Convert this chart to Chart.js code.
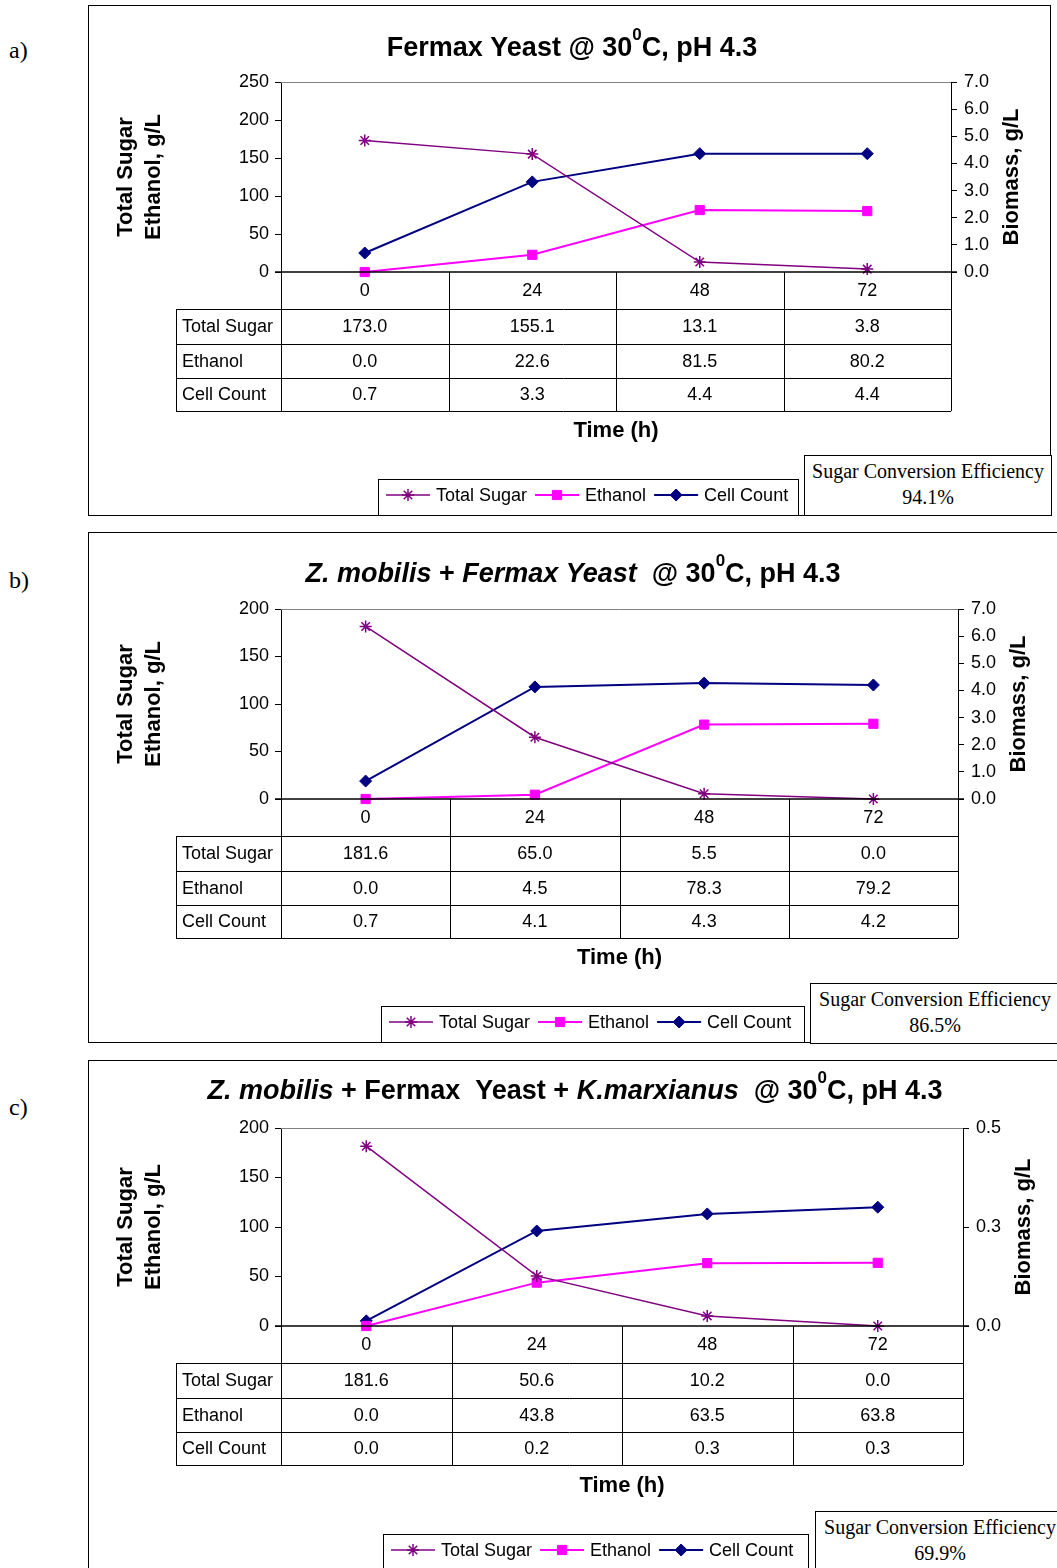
<!DOCTYPE html>
<html>
<head>
<meta charset="utf-8">
<script src="https://cdn.jsdelivr.net/npm/chart.js@4/dist/chart.umd.min.js"></script>
<style>
html,body{margin:0;padding:0;overflow:hidden;background:#fff;width:1057px;height:1568px}
.panel{position:absolute;left:88px;border:1px solid #000;box-sizing:border-box}
.tag{position:absolute;left:9px;font:24px "Liberation Serif","Times New Roman",serif;line-height:28px}
.eff{position:absolute;background:#fff;border:1.5px solid #000;font:20px "Liberation Serif","Times New Roman",serif;text-align:center;line-height:26px;box-sizing:border-box;padding-top:2px;white-space:nowrap}
canvas{position:absolute;left:88px}
</style>
</head>
<body>
<div class="panel" style="top:5px;width:963px;height:511px"></div>
<div class="panel" style="top:532px;width:1000px;height:511px"></div>
<div class="panel" style="top:1060px;width:1000px;height:600px"></div>
<div class="tag" style="top:36px">a)</div>
<div class="tag" style="top:566px">b)</div>
<div class="tag" style="top:1093px">c)</div>
<canvas id="chartA" width="969" height="510" style="top:5px"></canvas>
<canvas id="chartB" width="969" height="510" style="top:532px"></canvas>
<canvas id="chartC" width="969" height="508" style="top:1060px"></canvas>
<div class="eff" id="effA" style="left:804px;top:455px;width:248px;height:61px"></div>
<div class="eff" id="effB" style="left:810px;top:983px;width:250px;height:61px"></div>
<div class="eff" id="effC" style="left:815px;top:1511px;width:250px;height:61px"></div>
<script>
var times = ['0', '24', '48', '72']
var rowNames = ['Total Sugar', 'Ethanol', 'Cell Count']

// a) Fermax yeast
var sugarA = [173.0, 155.1, 13.1, 3.8]
var ethanolA = [0.0, 22.6, 81.5, 80.2]
var cellsA = [0.70, 3.32, 4.36, 4.36]
// b) Z. mobilis + Fermax yeast
var sugarB = [181.6, 65.0, 5.5, 0.0]
var ethanolB = [0.0, 4.5, 78.3, 79.2]
var cellsB = [0.66, 4.13, 4.27, 4.2]
// c) Z. mobilis + Fermax yeast + K. marxianus
var sugarC = [181.6, 50.6, 10.2, 0.0]
var ethanolC = [0.0, 43.8, 63.5, 63.8]
var cellsC = [0.013, 0.24, 0.283, 0.30]

var efficiency = ['94.1%', '86.5%', '69.9%']

var titleA = [['Fermax Yeast @ 30', 'b'], ['0', 'sup'], ['C, pH 4.3', 'b']]
var titleB = [['Z. mobilis', 'bi'], [' + ', 'b'], ['Fermax Yeast', 'bi'], ['  @ 30', 'b'], ['0', 'sup'], ['C, pH 4.3', 'b']]
var titleC = [['Z. mobilis', 'bi'], [' + Fermax  Yeast + ', 'b'], ['K.marxianus', 'bi'], ['  @ 30', 'b'], ['0', 'sup'], ['C, pH 4.3', 'b']]

var FAM = '"Liberation Sans", Arial, sans-serif'
Chart.defaults.font.family = FAM
Chart.defaults.color = '#000'

function drawTitle(ctx, segs, cx, base) {
    var fonts = {b: 'bold 27px ' + FAM, bi: 'italic bold 27px ' + FAM, sup: 'bold 17px ' + FAM}
    var total = 0
    segs.forEach(function(s){ ctx.font = fonts[s[1]]; total += ctx.measureText(s[0]).width })
    var x = cx - total / 2
    ctx.textAlign = 'left'
    ctx.textBaseline = 'alphabetic'
    segs.forEach(function(s){
        ctx.font = fonts[s[1]]
        ctx.fillText(s[0], x, s[1] == 'sup' ? base - 16 : base)
        x += ctx.measureText(s[0]).width
    })
}

var decor = {
    id: 'decor',
    beforeDatasetsDraw: function(chart){
        var ctx = chart.ctx, a = chart.chartArea
        ctx.save()
        ctx.strokeStyle = '#808080'
        ctx.lineWidth = 1
        ctx.beginPath(); ctx.moveTo(a.left, a.top + 0.5); ctx.lineTo(a.right, a.top + 0.5); ctx.stroke()
        ctx.restore()
    },
    afterDraw: function(chart){
        var ctx = chart.ctx, a = chart.chartArea, p = chart.options.panel
        var xs = chart.scales.x
        ctx.save()
        ctx.fillStyle = '#000'
        ctx.strokeStyle = '#000'

        // x axis line at zero
        ctx.lineWidth = 1.5
        ctx.beginPath(); ctx.moveTo(a.left - 6, a.bottom); ctx.lineTo(a.right + 6, a.bottom); ctx.stroke()

        // data table under the axis
        var step = (a.right - a.left) / times.length
        var tLeft = a.left - 105
        var rows = [a.bottom + 37, a.bottom + 72, a.bottom + 106, a.bottom + 139]
        ctx.lineWidth = 1
        ctx.beginPath()
        for (var k = 0; k <= times.length; k++) {
            var bx = Math.round(a.left + k * step) + 0.5
            ctx.moveTo(bx, a.bottom); ctx.lineTo(bx, rows[3])
        }
        rows.forEach(function(r){ ctx.moveTo(tLeft, r + 0.5); ctx.lineTo(a.right, r + 0.5) })
        ctx.moveTo(tLeft + 0.5, rows[0]); ctx.lineTo(tLeft + 0.5, rows[3])
        ctx.stroke()

        ctx.font = '18px ' + FAM
        ctx.textBaseline = 'middle'
        ctx.textAlign = 'center'
        times.forEach(function(t, i){
            ctx.fillText(t, xs.getPixelForValue(i), (a.bottom + rows[0]) / 2 + 1)
        })
        var series = [p.sugar, p.ethanol, p.cells]
        series.forEach(function(vals, r){
            var cy = (rows[r] + rows[r + 1]) / 2 + 1
            ctx.textAlign = 'left'
            ctx.fillText(rowNames[r], tLeft + 6, cy)
            ctx.textAlign = 'center'
            vals.forEach(function(v, i){ ctx.fillText(v.toFixed(1), xs.getPixelForValue(i), cy) })
        })

        // axis titles
        ctx.font = 'bold 22px ' + FAM
        ctx.textAlign = 'center'
        ctx.fillText('Time (h)', (a.left + a.right) / 2, 426)
        var midY = (a.top + a.bottom) / 2
        ctx.save()
        ctx.translate(38, midY); ctx.rotate(-Math.PI / 2)
        ctx.fillText('Total Sugar', 0, 0)
        ctx.restore()
        ctx.save()
        ctx.translate(66, midY); ctx.rotate(-Math.PI / 2)
        ctx.fillText('Ethanol, g/L', 0, 0)
        ctx.restore()
        ctx.save()
        ctx.translate(a.right + 61, midY); ctx.rotate(-Math.PI / 2)
        ctx.fillText('Biomass, g/L', 0, 0)
        ctx.restore()

        // chart title
        drawTitle(ctx, p.title, p.titleX, p.titleBase)

        // legend
        ctx.lineWidth = 1
        ctx.strokeStyle = '#000'
        ctx.strokeRect(p.legendX + 0.5, 474.5, p.legendW, 60)
        ctx.font = '18px ' + FAM
        ctx.textAlign = 'left'
        ctx.textBaseline = 'middle'
        var lx = p.legendX + 8, ly = 490
        chart.data.datasets.forEach(function(ds){
            ctx.strokeStyle = ds.borderColor
            ctx.fillStyle = ds.backgroundColor
            ctx.lineWidth = ds.borderWidth
            ctx.beginPath(); ctx.moveTo(lx, ly); ctx.lineTo(lx + 44, ly); ctx.stroke()
            ctx.lineWidth = ds.pointBorderWidth
            Chart.helpers.drawPoint(ctx, {pointStyle: ds.pointStyle, radius: ds.pointRadius, borderWidth: ds.pointBorderWidth, rotation: 0}, lx + 22, ly)
            ctx.fillStyle = '#000'
            ctx.fillText(ds.label, lx + 50, ly + 1)
            lx += 50 + ctx.measureText(ds.label).width + 8
        })
        ctx.restore()
    }
}

function makePanel(id, p) {
    var el = document.getElementById(id)
    return new Chart(el, {
        type: 'line',
        data: {
            labels: times,
            datasets: [
                {label: 'Total Sugar', data: p.sugar, yAxisID: 'y', borderColor: '#800080', backgroundColor: '#800080',
                 borderWidth: 1.5, pointStyle: 'star', pointRadius: 6, pointBorderWidth: 1.5, clip: false},
                {label: 'Ethanol', data: p.ethanol, yAxisID: 'y', borderColor: '#ff00ff', backgroundColor: '#ff00ff',
                 borderWidth: 2, pointStyle: 'rect', pointRadius: 6.5, pointBorderWidth: 1, clip: false},
                {label: 'Cell Count', data: p.cells, yAxisID: 'y1', borderColor: '#000080', backgroundColor: '#000080',
                 borderWidth: 2, pointStyle: 'rectRot', pointRadius: 6, pointBorderWidth: 1, clip: false}
            ]
        },
        options: {
            panel: p,
            responsive: false,
            animation: false,
            events: [],
            layout: {padding: {left: 0, right: 0, top: p.padTop, bottom: p.padBottom}},
            plugins: {legend: {display: false}, tooltip: {enabled: false}, title: {display: false}},
            scales: {
                x: {display: false, offset: true},
                y: {
                    position: 'left', min: 0, max: p.leftMax,
                    ticks: {stepSize: p.leftStep, font: {size: 18}, padding: 6, autoSkip: false, color: '#000'},
                    grid: {drawOnChartArea: false, tickLength: 6, color: '#000'},
                    border: {color: '#000', width: 1},
                    afterFit: function(s){ s.width = 193 }
                },
                y1: {
                    position: 'right', min: 0, max: p.rightMax,
                    ticks: {stepSize: p.rightStep, font: {size: 18}, padding: 7, autoSkip: false, color: '#000',
                            callback: function(v){ return Number(v).toFixed(1) }},
                    grid: {drawOnChartArea: false, tickLength: 6, color: '#000'},
                    border: {color: '#000', width: 1},
                    afterFit: function(s){ s.width = p.rightW }
                }
            }
        },
        plugins: [decor]
    })
}

makePanel('chartA', {sugar: sugarA, ethanol: ethanolA, cells: cellsA, title: titleA,
    leftMax: 250, leftStep: 50, rightMax: 7, rightStep: 1, rightW: 106,
    padTop: 77, padBottom: 243, titleX: 484, titleBase: 51, legendX: 290, legendW: 420})
makePanel('chartB', {sugar: sugarB, ethanol: ethanolB, cells: cellsB, title: titleB,
    leftMax: 200, leftStep: 50, rightMax: 7, rightStep: 1, rightW: 99,
    padTop: 77, padBottom: 243, titleX: 485, titleBase: 50, legendX: 293, legendW: 423})
makePanel('chartC', {sugar: sugarC, ethanol: ethanolC, cells: cellsC, title: titleC,
    leftMax: 200, leftStep: 50, rightMax: 0.5, rightStep: 0.25, rightW: 94,
    padTop: 68, padBottom: 242, titleX: 487, titleBase: 39, legendX: 295, legendW: 425})

var effIds = ['effA', 'effB', 'effC']
effIds.forEach(function(id, i){
    document.getElementById(id).innerHTML = 'Sugar Conversion Efficiency<br>' + efficiency[i]
})
</script>
</body>
</html>
